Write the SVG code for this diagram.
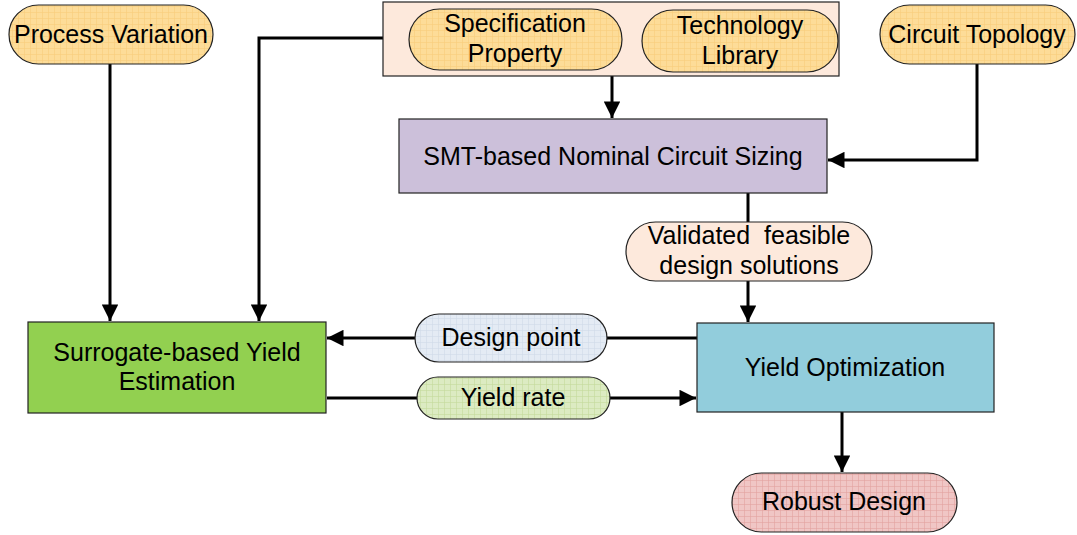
<svg xmlns="http://www.w3.org/2000/svg" width="1077" height="535" viewBox="0 0 1077 535">
  <defs>
    <style>
      .lbl { font-family: "Liberation Sans", Arial, sans-serif; font-size: 25px; fill: #000; text-anchor: middle; white-space: pre; }
      .pill { stroke: #222; stroke-width: 1.2; }
      .box { stroke: #222; stroke-width: 1.2; }
      .wire { fill: none; stroke: #000; stroke-width: 3; }
    </style>
    <pattern id="gridOrange" width="6" height="6" patternUnits="userSpaceOnUse">
      <rect width="6" height="6" fill="#FDDC98"/>
      <path d="M0 0.5H6M0.5 0V6" stroke="#F8CC7C" stroke-width="0.6"/>
    </pattern>
    <pattern id="gridBlue" width="6" height="6" patternUnits="userSpaceOnUse">
      <rect width="6" height="6" fill="#E4EBF4"/>
      <path d="M0 0.5H6M0.5 0V6" stroke="#D0DAE7" stroke-width="0.6"/>
    </pattern>
    <pattern id="gridGreen" width="6" height="6" patternUnits="userSpaceOnUse">
      <rect width="6" height="6" fill="#DCEBC2"/>
      <path d="M0 0.5H6M0.5 0V6" stroke="#C4DA9C" stroke-width="0.6"/>
    </pattern>
    <pattern id="gridRed" width="6" height="6" patternUnits="userSpaceOnUse">
      <rect width="6" height="6" fill="#F0C6C5"/>
      <path d="M0 0.5H6M0.5 0V6" stroke="#E3A2A0" stroke-width="0.6"/>
    </pattern>
    <marker id="arrow" viewBox="0 0 10 10" refX="10" refY="5" markerWidth="7.5" markerHeight="5.5" orient="auto" markerUnits="strokeWidth">
      <path d="M0 0L10 5L0 10Z" fill="#000"/>
    </marker>
  </defs>

  <!-- connectors -->
  <g id="connectors">
    <path class="wire" d="M110 64V321" marker-end="url(#arrow)"/>
    <path class="wire" d="M383 38H259V321" marker-end="url(#arrow)"/>
    <path class="wire" d="M612 76V118" marker-end="url(#arrow)"/>
    <path class="wire" d="M977 64V160H828" marker-end="url(#arrow)"/>
    <path class="wire" d="M748 193V222"/>
    <path class="wire" d="M748 281V322" marker-end="url(#arrow)"/>
    <path class="wire" d="M697 338H327" marker-end="url(#arrow)"/>
    <path class="wire" d="M327 398H696" marker-end="url(#arrow)"/>
    <path class="wire" d="M842 412V472" marker-end="url(#arrow)"/>
  </g>

  <!-- top inputs -->
  <g id="process-variation">
    <rect class="pill" x="9" y="5" width="204" height="59" rx="29.5" fill="url(#gridOrange)"/>
    <text class="lbl" x="111" y="43">Process Variation</text>
  </g>

  <g id="spec-library">
    <rect class="box" x="383" y="2" width="456" height="74" fill="#FDE9DC"/>
    <g id="specification-property">
      <rect class="pill" x="409" y="9" width="213" height="61" rx="30.5" fill="url(#gridOrange)"/>
      <text class="lbl" x="515" y="32">Specification</text>
      <text class="lbl" x="515" y="62">Property</text>
    </g>
    <g id="technology-library">
      <rect class="pill" x="642" y="10" width="196" height="62" rx="31" fill="url(#gridOrange)"/>
      <text class="lbl" x="740" y="34">Technology</text>
      <text class="lbl" x="740" y="64">Library</text>
    </g>
  </g>

  <g id="circuit-topology">
    <rect class="pill" x="880" y="5" width="195" height="59" rx="29.5" fill="url(#gridOrange)"/>
    <text class="lbl" x="977" y="43">Circuit Topology</text>
  </g>

  <!-- main flow -->
  <g id="smt-sizing">
    <rect class="box" x="399" y="119" width="428" height="74" fill="#CCC0DA"/>
    <text class="lbl" x="613" y="165">SMT-based Nominal Circuit Sizing</text>
  </g>

  <g id="validated-solutions">
    <rect class="pill" x="626" y="222" width="246" height="59" rx="29.5" fill="#FDE9DC"/>
    <text class="lbl" x="749" y="244">Validated  feasible</text>
    <text class="lbl" x="749" y="274">design solutions</text>
  </g>

  <g id="yield-estimation">
    <rect class="box" x="28" y="322" width="298" height="91" fill="#92D050"/>
    <text class="lbl" x="177" y="361">Surrogate-based Yield</text>
    <text class="lbl" x="177" y="390">Estimation</text>
  </g>

  <g id="design-point">
    <rect class="pill" x="415" y="314" width="192" height="48" rx="24" fill="url(#gridBlue)"/>
    <text class="lbl" x="511" y="346">Design point</text>
  </g>

  <g id="yield-rate">
    <rect class="pill" x="417" y="377" width="193" height="42" rx="21" fill="url(#gridGreen)"/>
    <text class="lbl" x="513" y="406">Yield rate</text>
  </g>

  <g id="yield-optimization">
    <rect class="box" x="697" y="323" width="297" height="89" fill="#92CDDC"/>
    <text class="lbl" x="845" y="376">Yield Optimization</text>
  </g>

  <g id="robust-design">
    <rect class="pill" x="732" y="473" width="225" height="59" rx="29.5" fill="url(#gridRed)"/>
    <text class="lbl" x="844" y="510">Robust Design</text>
  </g>
</svg>
